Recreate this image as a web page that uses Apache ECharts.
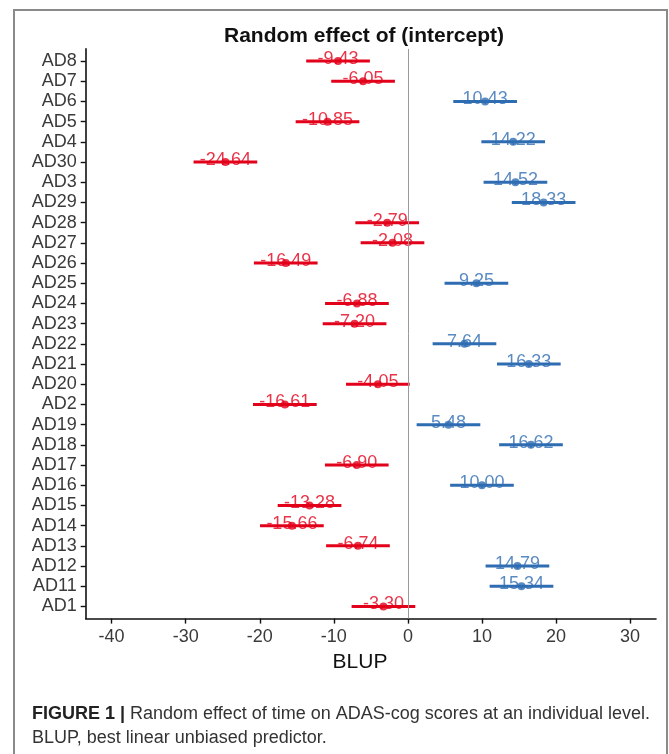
<!DOCTYPE html>
<html>
<head>
<meta charset="utf-8">
<script src="https://cdn.jsdelivr.net/npm/echarts@6/dist/echarts.min.js"></script>
<style>
html,body{margin:0;padding:0;background:#fff;}
#chart{width:669px;height:754px;}
</style>
</head>
<body>
<div id="chart"></div>
<script>
// Categories listed top to bottom as in the figure
const categories = ['AD8','AD7','AD6','AD5','AD4','AD30','AD3','AD29','AD28','AD27','AD26','AD25','AD24','AD23','AD22','AD21','AD20','AD2','AD19','AD18','AD17','AD16','AD15','AD14','AD13','AD12','AD11','AD1'];
const blup = [-9.43,-6.05,10.43,-10.85,14.22,-24.64,14.52,18.33,-2.79,-2.08,-16.49,9.25,-6.88,-7.20,7.64,16.33,-4.05,-16.61,5.48,16.62,-6.90,10.00,-13.28,-15.66,-6.74,14.79,15.34,-3.30];
const lower = [-13.73,-10.35,6.13,-15.15,9.92,-28.94,10.22,14.03,-7.09,-6.38,-20.79,4.95,-11.18,-11.50,3.34,12.03,-8.35,-20.91,1.18,12.32,-11.20,5.70,-17.58,-19.96,-11.04,10.49,11.04,-7.60];
const upper = [-5.13,-1.75,14.73,-6.55,18.52,-20.34,18.82,22.63,1.51,2.22,-12.19,13.55,-2.58,-2.90,11.94,20.63,0.25,-12.31,9.78,20.92,-2.60,14.30,-8.98,-11.36,-2.44,19.09,19.64,1.00];
const xTicks = [-40,-30,-20,-10,0,10,20,30];

const RED = '#e2001a';
const BLUE = '#2f6db3';
const FONT = '"Liberation Sans", Arial, sans-serif';
const n = categories.length;
const yIdx = categories.map((c, i) => n - 1 - i);
const colorOf = v => (v < 0 ? RED : BLUE);

const barData = categories.map((c, i) => [lower[i], upper[i], yIdx[i], blup[i]]);
const pointData = categories.map((c, i) => ({
  value: [blup[i], yIdx[i]],
  itemStyle: { color: colorOf(blup[i]) },
  label: { color: colorOf(blup[i]) }
}));

const chart = echarts.init(document.getElementById('chart'), null, { renderer: 'canvas' });
chart.setOption({
  animation: false,
  backgroundColor: '#fff',
  title: {
    text: 'Random effect of (intercept)',
    left: 359, top: 21, textAlign: 'center',
    textStyle: { fontFamily: FONT, fontSize: 21, fontWeight: 'bold', color: '#111' }
  },
  grid: { left: 85.7, right: 13, top: 48.9, bottom: 135.4, containLabel: false },
  xAxis: {
    type: 'value', min: -43.5, max: 33.5,
    axisLine: { show: true, onZero: false, lineStyle: { color: '#111', width: 1.6 } },
    axisTick: { show: true, length: 5, customValues: xTicks, lineStyle: { color: '#111', width: 1.4 } },
    axisLabel: { customValues: xTicks, margin: 9, fontFamily: FONT, fontSize: 18, color: '#3a3a3a' },
    splitLine: { show: false }
  },
  yAxis: {
    type: 'value', min: -0.6, max: n - 1 + 0.6,
    axisLine: { show: true, onZero: false, lineStyle: { color: '#111', width: 1.6 } },
    axisTick: { show: true, length: 5, customValues: yIdx, lineStyle: { color: '#111', width: 1.4 } },
    axisLabel: {
      customValues: yIdx, margin: 9, fontFamily: FONT, fontSize: 18, color: '#3a3a3a',
      formatter: v => categories[n - 1 - Math.round(v)]
    },
    splitLine: { show: false }
  },
  series: [
    {
      type: 'line', data: [], silent: true, z: 1,
      markLine: {
        silent: true, symbol: 'none', label: { show: false },
        lineStyle: { color: '#9a9a9a', width: 1, type: 'solid' },
        data: [{ xAxis: 0 }]
      }
    },
    {
      type: 'custom', z: 2,
      data: barData,
      renderItem: function (params, api) {
        const p1 = api.coord([api.value(0), api.value(2)]);
        const p2 = api.coord([api.value(1), api.value(2)]);
        return {
          type: 'line',
          shape: { x1: p1[0], y1: p1[1], x2: p2[0], y2: p2[1] },
          style: { stroke: colorOf(api.value(3)), lineWidth: 3 }
        };
      }
    },
    {
      type: 'scatter', z: 3,
      symbol: 'circle', symbolSize: 8,
      data: pointData,
      label: {
        show: true, position: 'inside', offset: [0, -2],
        fontFamily: FONT, fontSize: 18,
        formatter: p => p.value[0].toFixed(2)
      }
    }
  ],
  graphic: [
    {
      type: 'rect', silent: true, z: -1,
      shape: { x: 14, y: 10, width: 653, height: 760 },
      style: { fill: null, stroke: '#8a8a8a', lineWidth: 2 }
    },
    {
      type: 'text', x: 360, y: 662, silent: true,
      style: { text: 'BLUP', fontFamily: FONT, fontSize: 21, fill: '#111', align: 'center', verticalAlign: 'middle' }
    },
    {
      type: 'text', left: 32, top: 705, silent: true,
      style: {
        text: '{b|FIGURE 1 |} Random effect of time on ADAS-cog scores at an individual level.',
        rich: { b: { fontWeight: 'bold', fontFamily: FONT, fontSize: 18, fill: '#222' } },
        fontFamily: FONT, fontSize: 18, fill: '#333'
      }
    },
    {
      type: 'text', left: 32, top: 729, silent: true,
      style: { text: 'BLUP, best linear unbiased predictor.', fontFamily: FONT, fontSize: 18, fill: '#333' }
    }
  ]
});
</script>
</body>
</html>
